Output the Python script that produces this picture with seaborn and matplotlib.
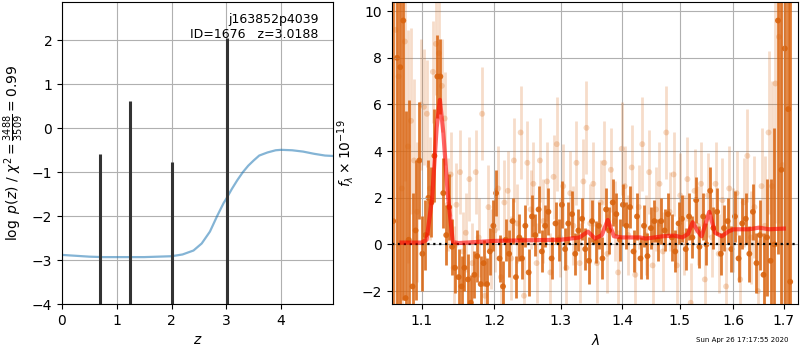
import numpy as np
import seaborn as sns
import matplotlib
matplotlib.use("Agg")
import matplotlib.pyplot as plt
from matplotlib.ticker import FixedLocator, NullLocator, FormatStrFormatter

# ---- left panel: redshift fit ----
z_grid = [0.0, 0.25, 0.5, 0.75, 1.0, 1.25, 1.5, 1.75, 2.0, 2.2, 2.4, 2.55, 2.7, 2.83, 2.95,
          3.0, 3.1, 3.2, 3.3, 3.4, 3.5, 3.6, 3.75, 3.9, 4.0, 4.2, 4.4, 4.6, 4.8, 4.95]
chi2_curve = [-2.88, -2.9, -2.92, -2.93, -2.93, -2.93, -2.93, -2.92, -2.91, -2.87, -2.78, -2.62,
              -2.35, -2.0, -1.7, -1.6, -1.38, -1.18, -1.0, -0.85, -0.73, -0.62, -0.55, -0.5,
              -0.49, -0.5, -0.53, -0.58, -0.62, -0.63]
z_peaks = [0.70, 1.24, 2.00, 3.02]
logp_peaks = [-0.59, 0.63, -0.77, 2.05]

# ---- right panel: spectrum (flux x 1e-19) ----
wave_a = [1.063, 1.068, 1.072, 1.076, 1.079, 1.083, 1.088, 1.092, 1.097, 1.101, 1.105, 1.109, 1.113,
          1.117, 1.121, 1.125, 1.129, 1.133, 1.137, 1.141, 1.145, 1.150, 1.154, 1.158, 1.163,
          1.167, 1.172, 1.176, 1.181, 1.185, 1.190, 1.194, 1.199, 1.203, 1.208, 1.213, 1.217,
          1.222, 1.227, 1.232, 1.237, 1.241, 1.246, 1.251, 1.256, 1.261, 1.266, 1.271, 1.276,
          1.281, 1.286, 1.292, 1.297, 1.302, 1.307, 1.312, 1.318, 1.323, 1.328, 1.334, 1.339,
          1.345, 1.350, 1.356, 1.361, 1.367, 1.373, 1.378, 1.384, 1.390, 1.396, 1.401, 1.407,
          1.413, 1.419, 1.425, 1.431, 1.437, 1.443, 1.449, 1.455, 1.461, 1.467, 1.473, 1.479,
          1.486, 1.492, 1.498, 1.504, 1.511, 1.517, 1.523, 1.530, 1.536, 1.543, 1.549, 1.556,
          1.562, 1.569, 1.576, 1.582, 1.589, 1.596, 1.603, 1.610, 1.617, 1.624, 1.631, 1.638,
          1.645, 1.652, 1.659, 1.666, 1.673, 1.681, 1.688, 1.695, 1.702, 1.709, 1.713]
flux_a = [1.0, 8.0, 7.6, 9.6, -2.3, 0.2, -1.8, 0.6, 3.6, -0.4, 0.4, 2.0,
          1.8, 3.8, 7.2, 7.2, 2.2, 0.4, 1.6, -0.1, -1.0, -1.4, -1.8, -1.0,
          -1.5, -2.5, -1.3, -0.5, -1.7, -0.8, -1.7, -0.3, 0.8, 2.2, -0.6, -1.8,
          0.2, -0.4, 1.0, -1.4, 0.3, -0.6, 0.8, -1.2, 1.2, 0.4, 1.5, -0.3,
          0.8, 1.4, -0.6, 0.9, 0.2, 1.7, -0.2, 0.9, 1.3, -0.4, 0.6, 1.1,
          -0.2, -0.7, 1.0, 0.1, 0.8, -0.6, 1.5, 0.6, 1.8, 1.3, 0.2, 1.7,
          0.8, 1.6, -0.3, 1.2, -0.6, 0.8, -0.5, 0.7, 1.0, 0.2, 1.0, 0.6,
          1.3, 0.3, -0.3, 0.9, 1.1, -0.2, 1.2, 0.3, 1.9, -0.1, 1.2, 0.0,
          2.3, 0.7, 1.4, -0.4, 0.7, 1.0, -0.2, 1.2, -0.6, 0.9, 1.1, -0.4,
          1.4, -0.8, 0.4, -1.3, 0.3, -0.7, 0.0, 9.6, 3.2, 8.4, 5.8, -1.6]
err_a = [14, 12, 12, 12, 8, 6, 4, 3, 2.5, 1.6, 1.5, 1.6,
         1.5, 2.0, 1.8, 1.6, 1.5, 1.3, 1.4, 1.2, 1.1, 1.2, 1.3, 1.0,
         1.1, 1.2, 1.0, 1.1, 1.2, 1.0, 1.1, 1.0, 1.1, 1.0, 1.0, 1.1,
         0.9, 1.0, 1.0, 0.9, 1.0, 0.9, 0.9, 1.0, 0.9, 0.9, 1.0, 0.9,
         0.9, 1.0, 0.9, 0.9, 0.9, 1.0, 0.9, 0.9, 1.0, 0.9, 0.9, 0.9,
         0.9, 1.0, 0.9, 0.9, 1.0, 0.9, 0.9, 1.0, 1.0, 0.9, 0.9, 0.9,
         1.0, 0.9, 0.9, 1.0, 0.9, 0.9, 1.0, 0.9, 0.9, 0.9, 1.0, 0.9,
         0.9, 1.0, 0.9, 0.9, 1.0, 0.9, 1.0, 0.9, 1.0, 0.9, 1.0, 0.9,
         1.0, 0.9, 1.0, 0.9, 1.0, 1.0, 1.0, 1.1, 1.0, 1.1, 1.1, 1.2,
         1.2, 1.3, 1.5, 1.8, 2.5, 3.5, 5.0, 10, 10, 12, 12, 14]

wave_b = [1.066, 1.070, 1.074, 1.078, 1.082, 1.086, 1.090, 1.094, 1.099, 1.103, 1.107, 1.111,
          1.115, 1.119, 1.123, 1.127, 1.131, 1.135, 1.139, 1.143, 1.147, 1.152, 1.156, 1.160,
          1.165, 1.169, 1.174, 1.178, 1.183, 1.187, 1.192, 1.196, 1.201, 1.206, 1.210, 1.215,
          1.220, 1.225, 1.229, 1.234, 1.239, 1.244, 1.249, 1.254, 1.258, 1.263, 1.268, 1.273,
          1.279, 1.284, 1.289, 1.294, 1.299, 1.304, 1.309, 1.315, 1.320, 1.325, 1.330, 1.336,
          1.341, 1.347, 1.352, 1.358, 1.364, 1.370, 1.375, 1.381, 1.387, 1.393, 1.399, 1.404,
          1.410, 1.416, 1.422, 1.428, 1.434, 1.440, 1.446, 1.452, 1.458, 1.464, 1.470, 1.476,
          1.482, 1.489, 1.495, 1.501, 1.507, 1.514, 1.520, 1.527, 1.533, 1.539, 1.546, 1.552,
          1.559, 1.566, 1.572, 1.579, 1.586, 1.592, 1.599, 1.606, 1.613, 1.620, 1.627, 1.634,
          1.641, 1.648, 1.655, 1.662, 1.669, 1.676, 1.683, 1.690, 1.697]
flux_b = [9.2, 7.2, 2.4, 8.7, 4.2, 5.3, 3.6, 1.4, 6.0, 5.9, 5.6, 2.4,
          7.4, 8.6, 8.2, 6.8, 5.4, 1.7, 3.0, -1.0, 1.7, 3.1, -0.3, 0.5,
          2.8, -0.8, 3.1, 0.3, 5.6, -2.2, 1.6, -0.2, 0.6, 2.4, -1.4, 1.8,
          2.3, -0.6, 3.6, 0.9, 4.8, -2.2, 3.5, 1.5, 2.6, -0.8, 3.6, 1.0,
          2.7, -1.2, 2.9, 4.3, 0.3, 2.5, -1.0, 2.2, 0.8, 3.5, -0.8, 2.7,
          5.0, 0.9, 2.6, -0.8, 1.8, 3.5, -0.4, 3.2, 1.0, -1.2, 4.1, 2.5,
          0.4, 3.3, -1.3, 1.6, 4.3, 0.4, 3.1, -0.9, 1.5, 2.6, -0.3, 4.8,
          1.4, 3.0, -0.9, 2.1, 0.4, 2.8, -2.5, 2.3, 0.8, 2.6, -1.5, 2.1,
          0.3, 2.6, -0.4, 1.9, -1.8, 2.4, 0.6, 2.2, -1.5, 1.8, 3.8, 0.3,
          1.6, -2.0, 2.5, 0.8, 4.8, 2.5, 6.9, 8.9, 3.4]
err_b = [14, 10, 8, 6, 5, 4, 3.5, 3, 2.8, 2.5, 2.3, 2.2,
         2.2, 2.2, 2.2, 2.0, 2.0, 2.0, 1.8, 1.8, 1.8, 1.8, 1.7, 1.7,
         1.8, 1.7, 1.8, 1.7, 2.0, 1.7, 1.8, 1.7, 1.8, 1.8, 1.7, 1.8,
         1.7, 1.8, 1.8, 1.7, 2.0, 1.7, 1.8, 1.7, 1.8, 1.7, 1.8, 1.8,
         1.7, 1.7, 1.8, 2.0, 1.7, 1.8, 1.7, 1.8, 1.7, 1.8, 1.7, 1.8,
         2.0, 1.7, 1.8, 1.7, 1.8, 1.8, 1.7, 1.8, 1.7, 1.8, 2.0, 1.7,
         1.7, 1.8, 1.7, 1.8, 2.0, 1.7, 1.8, 1.7, 1.8, 1.8, 1.7, 2.0,
         1.7, 1.8, 1.7, 1.8, 1.7, 1.8, 1.7, 1.8, 1.7, 1.8, 1.7, 1.8,
         1.7, 1.8, 1.7, 1.8, 1.7, 1.8, 1.8, 1.8, 1.8, 1.9, 2.0, 2.0,
         2.2, 2.2, 2.5, 3.0, 3.5, 4.5, 6, 8, 10]

wave_model = [1.0738, 1.085, 1.100, 1.1066, 1.114, 1.120, 1.1244, 1.129, 1.135, 1.142, 1.150,
              1.20, 1.25, 1.30, 1.33, 1.3433, 1.355, 1.366, 1.3758, 1.386, 1.40, 1.43, 1.44,
              1.47, 1.49, 1.505, 1.515, 1.5235, 1.532, 1.540, 1.5543, 1.565, 1.578, 1.590,
              1.600, 1.630, 1.650, 1.670, 1.700]
flux_model = [0.08, 0.08, 0.08, 0.2, 2.0, 5.0, 6.2, 4.8, 2.2, 0.1, 0.06,
              0.15, 0.18, 0.2, 0.3, 0.55, 0.25, 0.4, 1.05, 0.35, 0.3, 0.3, 0.25,
              0.35, 0.38, 0.3, 0.45, 0.95, 0.6, 0.35, 1.4, 0.5, 0.35, 0.55,
              0.65, 0.65, 0.72, 0.65, 0.68]

fig = plt.figure(figsize=(8, 3.5), dpi=100)
ax1 = fig.add_axes([0.0775, 0.131, 0.339, 0.863])
ax2 = fig.add_axes([0.49, 0.131, 0.508, 0.863])

# left: chi2 curve and p(z) peaks
sns.lineplot(x=z_grid, y=chi2_curve, color='tab:blue', alpha=0.55, lw=1.6, ax=ax1)
ax1.vlines(z_peaks, -5, logp_peaks, color='0.2', lw=2.2)
ax1.set_xlim(0, 4.95)
ax1.set_ylim(-4, 2.87)
ax1.set_xlabel('$z$')
ax1.set_ylabel(r'$\log\ p(z)$ / $\chi^2=\frac{3488}{3509}=0.99$')
ax1.grid(True)
ax1.text(0.945, 0.965, 'j163852p4039\nID=1676   z=3.0188', transform=ax1.transAxes,
         ha='right', va='top', fontsize=9)

# right: spectrum
orange = '#d9640f'
ax2.errorbar(wave_b, flux_b, yerr=err_b, fmt='none', ecolor=orange, alpha=0.22, elinewidth=2)
sns.scatterplot(x=wave_b, y=flux_b, color=orange, alpha=0.25, s=18, edgecolor='none', ax=ax2)
ax2.errorbar(wave_a, flux_a, yerr=err_a, fmt='none', ecolor=orange, alpha=0.85, elinewidth=2)
sns.scatterplot(x=wave_a, y=flux_a, color=orange, alpha=0.9, s=18, edgecolor='none', ax=ax2)
ax2.axhline(0, color='k', linestyle=':', lw=1.6, zorder=5)
sns.lineplot(x=wave_model, y=flux_model, color='red', alpha=0.6, lw=3, ax=ax2, zorder=6)

ax2.set_xscale('log')
ax2.xaxis.set_major_locator(FixedLocator([1.1, 1.2, 1.3, 1.4, 1.5, 1.6, 1.7]))
ax2.xaxis.set_minor_locator(NullLocator())
ax2.xaxis.set_major_formatter(FormatStrFormatter('%.1f'))
ax2.set_xlim(1.0615, 1.730)
ax2.set_ylim(-2.56, 10.39)
ax2.set_yticks([-2, 0, 2, 4, 6, 8, 10])
ax2.set_xlabel(r'$\lambda$')
ax2.set_ylabel(r'$f_\lambda\times10^{-19}$')
ax2.grid(True)

fig.text(0.985, 0.022, 'Sun Apr 26 17:17:55 2020', ha='right', fontsize=5)

fig.savefig('out.png', dpi=100)
